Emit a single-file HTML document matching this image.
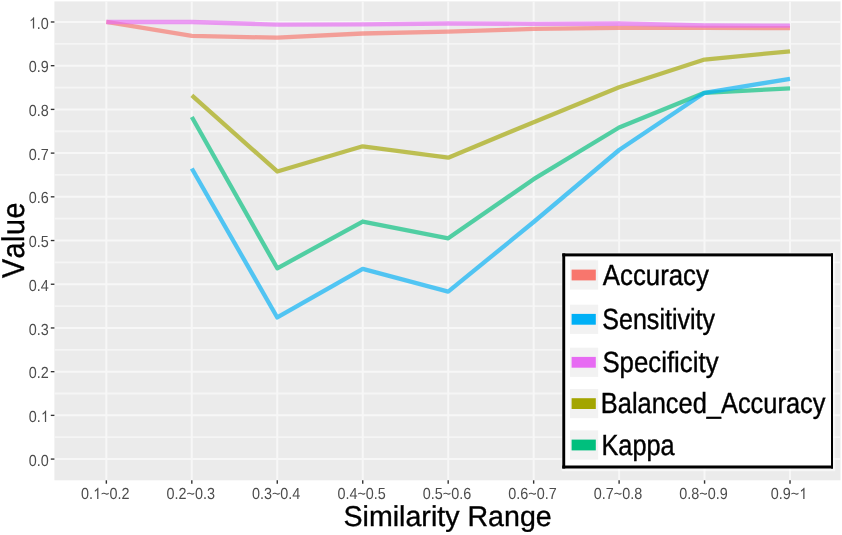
<!DOCTYPE html><html><head><meta charset="utf-8"><style>html,body{margin:0;padding:0;background:#fff;overflow:hidden;}svg{display:block;}text{font-family:"Liberation Sans",sans-serif;font-kerning:none;text-rendering:geometricPrecision;}</style></head><body>
<svg width="842" height="535" viewBox="0 0 842 535" style="filter:blur(0.45px)">
<rect x="0" y="0" width="842" height="535" fill="#fff"/>
<rect x="54.40" y="1.40" width="786.10" height="478.90" fill="#EBEBEB"/>
<line x1="54.40" x2="840.50" y1="437.22" y2="437.22" stroke="#F5F5F5" stroke-width="1.8"/>
<line x1="54.40" x2="840.50" y1="393.51" y2="393.51" stroke="#F5F5F5" stroke-width="1.8"/>
<line x1="54.40" x2="840.50" y1="349.80" y2="349.80" stroke="#F5F5F5" stroke-width="1.8"/>
<line x1="54.40" x2="840.50" y1="306.10" y2="306.10" stroke="#F5F5F5" stroke-width="1.8"/>
<line x1="54.40" x2="840.50" y1="262.38" y2="262.38" stroke="#F5F5F5" stroke-width="1.8"/>
<line x1="54.40" x2="840.50" y1="218.67" y2="218.67" stroke="#F5F5F5" stroke-width="1.8"/>
<line x1="54.40" x2="840.50" y1="174.96" y2="174.96" stroke="#F5F5F5" stroke-width="1.8"/>
<line x1="54.40" x2="840.50" y1="131.25" y2="131.25" stroke="#F5F5F5" stroke-width="1.8"/>
<line x1="54.40" x2="840.50" y1="87.54" y2="87.54" stroke="#F5F5F5" stroke-width="1.8"/>
<line x1="54.40" x2="840.50" y1="43.83" y2="43.83" stroke="#F5F5F5" stroke-width="1.8"/>
<line x1="54.40" x2="840.50" y1="459.08" y2="459.08" stroke="#F7F7F7" stroke-width="2"/>
<line x1="54.40" x2="840.50" y1="415.37" y2="415.37" stroke="#F7F7F7" stroke-width="2"/>
<line x1="54.40" x2="840.50" y1="371.66" y2="371.66" stroke="#F7F7F7" stroke-width="2"/>
<line x1="54.40" x2="840.50" y1="327.95" y2="327.95" stroke="#F7F7F7" stroke-width="2"/>
<line x1="54.40" x2="840.50" y1="284.24" y2="284.24" stroke="#F7F7F7" stroke-width="2"/>
<line x1="54.40" x2="840.50" y1="240.53" y2="240.53" stroke="#F7F7F7" stroke-width="2"/>
<line x1="54.40" x2="840.50" y1="196.82" y2="196.82" stroke="#F7F7F7" stroke-width="2"/>
<line x1="54.40" x2="840.50" y1="153.11" y2="153.11" stroke="#F7F7F7" stroke-width="2"/>
<line x1="54.40" x2="840.50" y1="109.40" y2="109.40" stroke="#F7F7F7" stroke-width="2"/>
<line x1="54.40" x2="840.50" y1="65.69" y2="65.69" stroke="#F7F7F7" stroke-width="2"/>
<line x1="54.40" x2="840.50" y1="21.98" y2="21.98" stroke="#F7F7F7" stroke-width="2"/>
<line x1="106.35" x2="106.35" y1="1.40" y2="480.30" stroke="#F7F7F7" stroke-width="2"/>
<line x1="191.81" x2="191.81" y1="1.40" y2="480.30" stroke="#F7F7F7" stroke-width="2"/>
<line x1="277.27" x2="277.27" y1="1.40" y2="480.30" stroke="#F7F7F7" stroke-width="2"/>
<line x1="362.73" x2="362.73" y1="1.40" y2="480.30" stroke="#F7F7F7" stroke-width="2"/>
<line x1="448.19" x2="448.19" y1="1.40" y2="480.30" stroke="#F7F7F7" stroke-width="2"/>
<line x1="533.65" x2="533.65" y1="1.40" y2="480.30" stroke="#F7F7F7" stroke-width="2"/>
<line x1="619.11" x2="619.11" y1="1.40" y2="480.30" stroke="#F7F7F7" stroke-width="2"/>
<line x1="704.57" x2="704.57" y1="1.40" y2="480.30" stroke="#F7F7F7" stroke-width="2"/>
<line x1="790.03" x2="790.03" y1="1.40" y2="480.30" stroke="#F7F7F7" stroke-width="2"/>
<polyline points="106.35,21.98 191.81,35.97 277.27,37.72 362.73,33.52 448.19,31.60 533.65,28.97 619.11,27.84 704.57,27.92 790.03,28.10" fill="none" stroke="#F8766D" stroke-opacity="0.66" stroke-width="4.3" stroke-linejoin="round" stroke-linecap="butt"/>
<polyline points="191.81,95.28 277.27,171.47 362.73,146.29 448.19,157.70 533.65,122.21 619.11,87.20 704.57,59.57 790.03,51.27" fill="none" stroke="#A3A500" stroke-opacity="0.66" stroke-width="4.3" stroke-linejoin="round" stroke-linecap="butt"/>
<polyline points="191.81,117.01 277.27,268.29 362.73,221.52 448.19,238.34 533.65,179.20 619.11,127.50 704.57,92.79 790.03,88.42" fill="none" stroke="#00BF7D" stroke-opacity="0.66" stroke-width="4.3" stroke-linejoin="round" stroke-linecap="butt"/>
<polyline points="191.81,168.50 277.27,317.46 362.73,268.81 448.19,291.67 533.65,222.00 619.11,150.01 704.57,92.79 790.03,78.80" fill="none" stroke="#00B0F6" stroke-opacity="0.66" stroke-width="4.3" stroke-linejoin="round" stroke-linecap="butt"/>
<polyline points="106.35,21.98 191.81,21.98 277.27,24.60 362.73,24.47 448.19,23.51 533.65,23.82 619.11,23.51 704.57,25.48 790.03,25.61" fill="none" stroke="#E76BF3" stroke-opacity="0.66" stroke-width="4.3" stroke-linejoin="round" stroke-linecap="butt"/>
<line x1="50.8" x2="54.40" y1="459.08" y2="459.08" stroke="#333" stroke-width="1.35"/>
<text transform="translate(28.78,465.68) scale(1,1.12)" font-size="14.4" fill="#4D4D4D">0.0</text>
<line x1="50.8" x2="54.40" y1="415.37" y2="415.37" stroke="#333" stroke-width="1.35"/>
<text transform="translate(28.78,421.97) scale(1,1.12)" font-size="14.4" fill="#4D4D4D">0.&#x2007;</text><path transform="translate(40.791,421.97) scale(0.00703,-0.00788)" d="M763,0 L583,0 L583,1147 Q518,1085 434,1023 Q337,961 259,925 L259,1099 Q399,1165 505,1259 Q611,1353 655,1441 L763,1441 Z" fill="#4D4D4D"/>
<line x1="50.8" x2="54.40" y1="371.66" y2="371.66" stroke="#333" stroke-width="1.35"/>
<text transform="translate(28.78,378.26) scale(1,1.12)" font-size="14.4" fill="#4D4D4D">0.2</text>
<line x1="50.8" x2="54.40" y1="327.95" y2="327.95" stroke="#333" stroke-width="1.35"/>
<text transform="translate(28.78,334.55) scale(1,1.12)" font-size="14.4" fill="#4D4D4D">0.3</text>
<line x1="50.8" x2="54.40" y1="284.24" y2="284.24" stroke="#333" stroke-width="1.35"/>
<text transform="translate(28.78,290.84) scale(1,1.12)" font-size="14.4" fill="#4D4D4D">0.4</text>
<line x1="50.8" x2="54.40" y1="240.53" y2="240.53" stroke="#333" stroke-width="1.35"/>
<text transform="translate(28.78,247.13) scale(1,1.12)" font-size="14.4" fill="#4D4D4D">0.5</text>
<line x1="50.8" x2="54.40" y1="196.82" y2="196.82" stroke="#333" stroke-width="1.35"/>
<text transform="translate(28.78,203.42) scale(1,1.12)" font-size="14.4" fill="#4D4D4D">0.6</text>
<line x1="50.8" x2="54.40" y1="153.11" y2="153.11" stroke="#333" stroke-width="1.35"/>
<text transform="translate(28.78,159.71) scale(1,1.12)" font-size="14.4" fill="#4D4D4D">0.7</text>
<line x1="50.8" x2="54.40" y1="109.40" y2="109.40" stroke="#333" stroke-width="1.35"/>
<text transform="translate(28.78,116.00) scale(1,1.12)" font-size="14.4" fill="#4D4D4D">0.8</text>
<line x1="50.8" x2="54.40" y1="65.69" y2="65.69" stroke="#333" stroke-width="1.35"/>
<text transform="translate(28.78,72.29) scale(1,1.12)" font-size="14.4" fill="#4D4D4D">0.9</text>
<line x1="50.8" x2="54.40" y1="21.98" y2="21.98" stroke="#333" stroke-width="1.35"/>
<text transform="translate(28.78,28.58) scale(1,1.12)" font-size="14.4" fill="#4D4D4D">&#x2007;.0</text><path transform="translate(28.782,28.58) scale(0.00703,-0.00788)" d="M763,0 L583,0 L583,1147 Q518,1085 434,1023 Q337,961 259,925 L259,1099 Q399,1165 505,1259 Q611,1353 655,1441 L763,1441 Z" fill="#4D4D4D"/>
<line x1="106.35" x2="106.35" y1="480.30" y2="483.70" stroke="#333" stroke-width="1.4"/>
<text transform="translate(81.03,499.00) scale(1,1.12)" font-size="14.4" fill="#4D4D4D">0.&#x2007;~0.2</text><path transform="translate(93.037,499.00) scale(0.00703,-0.00788)" d="M763,0 L583,0 L583,1147 Q518,1085 434,1023 Q337,961 259,925 L259,1099 Q399,1165 505,1259 Q611,1353 655,1441 L763,1441 Z" fill="#4D4D4D"/>
<line x1="191.81" x2="191.81" y1="480.30" y2="483.70" stroke="#333" stroke-width="1.4"/>
<text transform="translate(166.49,499.00) scale(1,1.12)" font-size="14.4" fill="#4D4D4D">0.2~0.3</text>
<line x1="277.27" x2="277.27" y1="480.30" y2="483.70" stroke="#333" stroke-width="1.4"/>
<text transform="translate(251.95,499.00) scale(1,1.12)" font-size="14.4" fill="#4D4D4D">0.3~0.4</text>
<line x1="362.73" x2="362.73" y1="480.30" y2="483.70" stroke="#333" stroke-width="1.4"/>
<text transform="translate(337.41,499.00) scale(1,1.12)" font-size="14.4" fill="#4D4D4D">0.4~0.5</text>
<line x1="448.19" x2="448.19" y1="480.30" y2="483.70" stroke="#333" stroke-width="1.4"/>
<text transform="translate(422.87,499.00) scale(1,1.12)" font-size="14.4" fill="#4D4D4D">0.5~0.6</text>
<line x1="533.65" x2="533.65" y1="480.30" y2="483.70" stroke="#333" stroke-width="1.4"/>
<text transform="translate(508.33,499.00) scale(1,1.12)" font-size="14.4" fill="#4D4D4D">0.6~0.7</text>
<line x1="619.11" x2="619.11" y1="480.30" y2="483.70" stroke="#333" stroke-width="1.4"/>
<text transform="translate(593.79,499.00) scale(1,1.12)" font-size="14.4" fill="#4D4D4D">0.7~0.8</text>
<line x1="704.57" x2="704.57" y1="480.30" y2="483.70" stroke="#333" stroke-width="1.4"/>
<text transform="translate(679.25,499.00) scale(1,1.12)" font-size="14.4" fill="#4D4D4D">0.8~0.9</text>
<line x1="790.03" x2="790.03" y1="480.30" y2="483.70" stroke="#333" stroke-width="1.4"/>
<text transform="translate(770.71,499.00) scale(1,1.12)" font-size="14.4" fill="#4D4D4D">0.9~&#x2007;</text><path transform="translate(799.139,499.00) scale(0.00703,-0.00788)" d="M763,0 L583,0 L583,1147 Q518,1085 434,1023 Q337,961 259,925 L259,1099 Q399,1165 505,1259 Q611,1353 655,1441 L763,1441 Z" fill="#4D4D4D"/>
<text transform="translate(447.60,525.80) scale(1.0,1.0)" font-size="28.6" fill="#000" text-anchor="middle" stroke="#000" stroke-width="0.35">Similarity Range</text>
<text transform="translate(23.60,240.00) rotate(-90) scale(1.0,1.1)" font-size="28.6" fill="#000" text-anchor="middle" letter-spacing="0.6" stroke="#000" stroke-width="0.35">Value</text>
<rect x="561.6" y="252.4" width="273.6" height="218.8" fill="#fff" fill-opacity="0.55"/>
<rect x="562.3" y="253.4" width="270.7" height="215.1" fill="#fff"/>
<rect x="562.3" y="253.4" width="2.9" height="215.1" fill="#000"/>
<rect x="831.0" y="253.4" width="2.0" height="215.1" fill="#000"/>
<rect x="562.3" y="253.4" width="270.7" height="3.0" fill="#000"/>
<rect x="562.3" y="465.5" width="270.7" height="3.0" fill="#000"/>
<rect x="570" y="260.40" width="28.2" height="29.2" fill="#F2F2F2"/>
<rect x="571.6" y="269.60" width="24.2" height="10.8" fill="#F8766D"/>
<text transform="translate(602.80,284.80) scale(1.02,1.15)" font-size="25.3" fill="#000" stroke="#000" stroke-width="0.35">Accuracy</text>
<rect x="570" y="304.70" width="28.2" height="29.2" fill="#F2F2F2"/>
<rect x="571.6" y="313.90" width="24.2" height="10.8" fill="#00B0F6"/>
<text transform="translate(602.30,329.10) scale(0.99,1.15)" font-size="25.3" fill="#000" stroke="#000" stroke-width="0.35">Sensitivity</text>
<rect x="570" y="347.70" width="28.2" height="29.2" fill="#F2F2F2"/>
<rect x="571.6" y="356.90" width="24.2" height="10.8" fill="#E76BF3"/>
<text transform="translate(602.40,372.10) scale(1.02,1.15)" font-size="25.3" fill="#000" stroke="#000" stroke-width="0.35">Specificity</text>
<rect x="570" y="389.00" width="28.2" height="29.2" fill="#F2F2F2"/>
<rect x="571.6" y="398.20" width="24.2" height="10.8" fill="#A3A500"/>
<text transform="translate(600.80,413.40) scale(1.005,1.15)" font-size="25.3" fill="#000" stroke="#000" stroke-width="0.35">Balanced_Accuracy</text>
<rect x="570" y="430.40" width="28.2" height="29.2" fill="#F2F2F2"/>
<rect x="571.6" y="439.60" width="24.2" height="10.8" fill="#00BF7D"/>
<text transform="translate(601.50,454.80) scale(1.0,1.15)" font-size="25.3" fill="#000" stroke="#000" stroke-width="0.35">Kappa</text>
</svg></body></html>
